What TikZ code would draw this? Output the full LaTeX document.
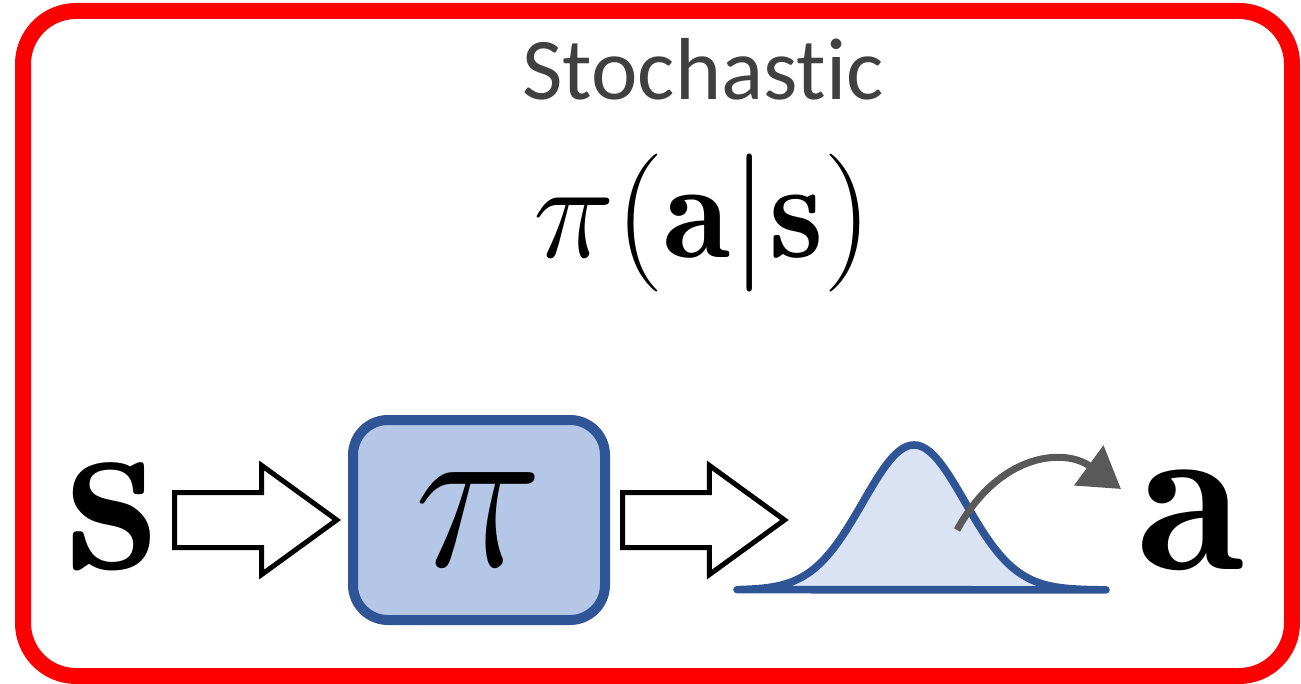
\RequirePackage{fix-cm}
\documentclass[tikz,border=0pt]{standalone}
\usepackage{fontspec}
\newfontfamily\calibrifont[Ligatures=NoCommon]{Carlito}
\usepackage{tikz}
\usetikzlibrary{arrows.meta, positioning, shapes.arrows, calc}

\definecolor{framered}{HTML}{FF0000}
\definecolor{polblue}{HTML}{2F5597}
\definecolor{polfill}{HTML}{B4C7E7}
\definecolor{bellfill}{HTML}{DAE3F3}
\definecolor{samplegray}{HTML}{595959}
\definecolor{titlegray}{HTML}{404040}

\begin{document}
\begin{tikzpicture}[x=0.5pt, y=-0.5pt,
        frame/.style={draw=framered, line width=8pt, rounded corners=26.5pt},
        polbox/.style={draw=polblue, fill=polfill, line width=5pt,
                       rounded corners=17.5pt, minimum width=126pt,
                       minimum height=100pt, inner sep=0pt,
                       font=\fontsize{109}{120}\selectfont},
        blockarr/.style={single arrow, draw, fill=white, line width=2.5pt,
                         inner sep=0pt, inner ysep=12.5pt, minimum height=81pt,
                         single arrow head extend=13.5pt,
                         single arrow tip angle=72},
        bigsym/.style={anchor=base, inner sep=0pt},
        bell/.style={draw=polblue, fill=bellfill, line width=3.8pt,
                     line join=round},
        samplearr/.style={draw=samplegray, line width=3.5pt,
                          -{Triangle[length=20pt, width=24pt]}}]
      \useasboundingbox (0,0) rectangle (1301,684);
      \draw[frame] (23,11) rectangle (1292,676);
      % heading
      \node[anchor=base, inner sep=0pt, text=titlegray,
            font=\calibrifont\fontsize{44}{52}\selectfont] (title)
            at (703,100) {Stochast\kern0pt ic};
      \node[bigsym, font=\fontsize{69}{80}\selectfont] (policy)
            at (703,258) {$\pi(\mathbf{a}|\mathbf{s})$};
      % state -> policy -> distribution -> action
      \node[bigsym, font=\fontsize{118}{128}\selectfont] (s)
            at (112,569) {$\mathbf{s}$};
      \node[polbox] (pibox) at (479,520) {$\pi$};
      \node[blockarr, anchor=tip] (arrin) at ([xshift=-3.5pt]pibox.west) {};
      \node[blockarr, anchor=tail] (arrout) at ([xshift=5pt]pibox.east) {};
      \node[bigsym, font=\fontsize{110}{120}\selectfont] (a)
            at (1191,569) {$\mathbf{a}$};
      \draw[bell] plot[domain=737:1106, samples=120]
            (\x,{590-145*exp(-((\x-914)/51)^2/2)}) -- cycle;
      \coordinate (sample) at (957,530);
      \coordinate (sampleend) at (1121,489);
      \draw[samplearr] (sample) .. controls (1000,452) and (1065,448) .. (sampleend);
\end{tikzpicture}
\end{document}
